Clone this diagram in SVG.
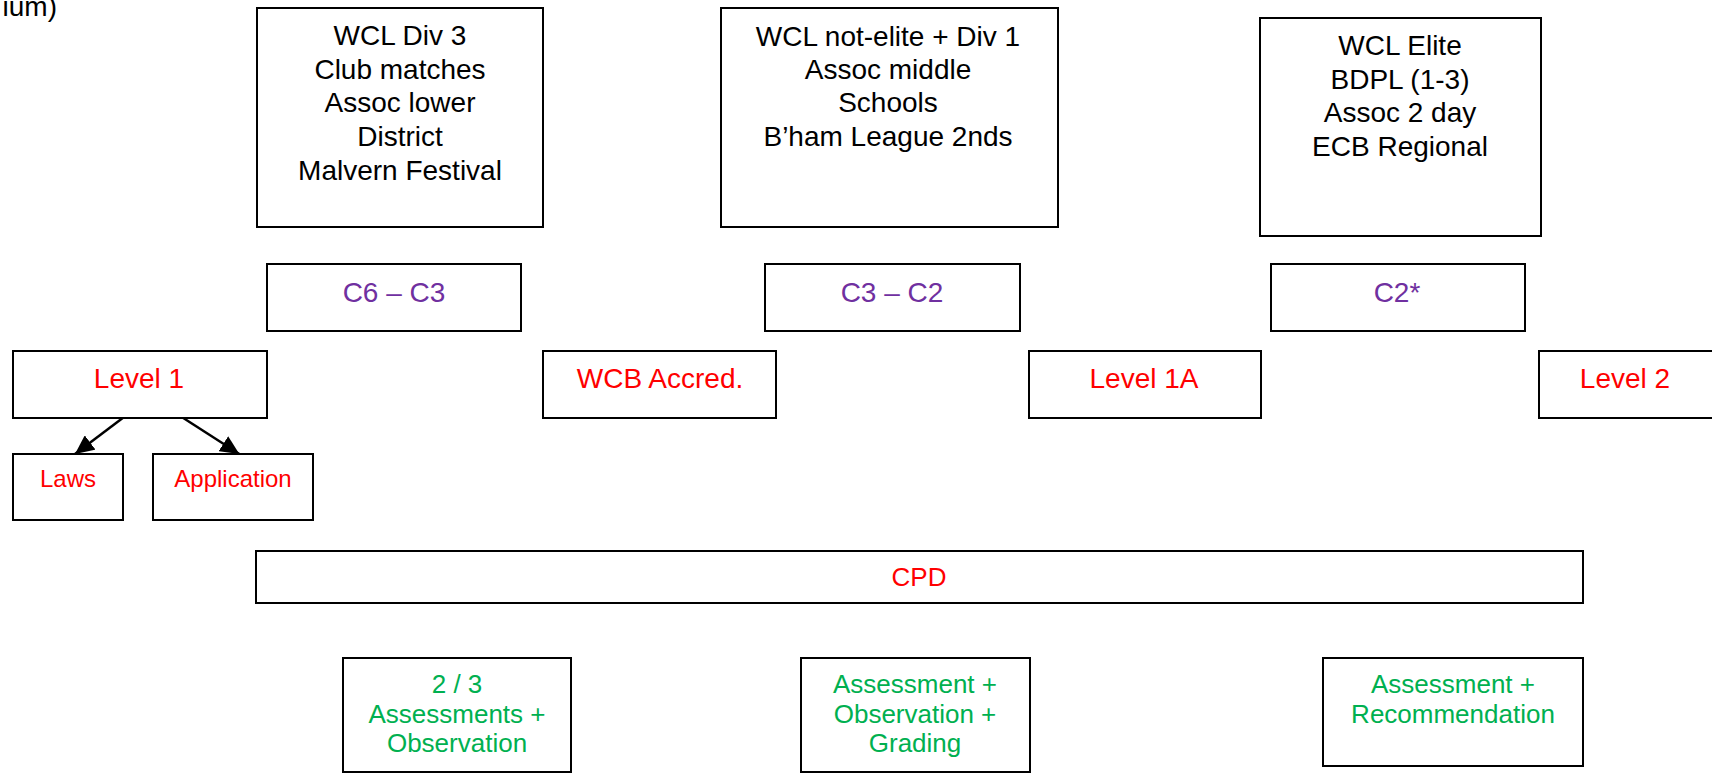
<svg xmlns="http://www.w3.org/2000/svg" width="1712" height="773" viewBox="0 0 1712 773">
<style>
  .box { fill: #ffffff; stroke: #000000; stroke-width: 2; }
  text { font-family: "Liberation Sans", Arial, sans-serif; text-anchor: middle; }
  .blk { fill: #000000; font-size: 28px; }
  .pur { fill: #7030A0; font-size: 28px; }
  .red { fill: #FF0000; font-size: 28px; }
  .redm { fill: #FF0000; font-size: 26px; }
  .reds { fill: #FF0000; font-size: 24px; }
  .grn { fill: #00B050; font-size: 26px; }
  .conn { stroke: #000000; stroke-width: 2.5; fill: none; marker-end: url(#arr); }
</style>
<defs>
  <marker id="arr" markerUnits="userSpaceOnUse" markerWidth="20" markerHeight="18" refX="19" refY="9" orient="auto">
    <path d="M0,0 L19,9 L0,18 Z" fill="#000000"/>
  </marker>
</defs>
<rect width="1712" height="773" fill="#ffffff"/>
<text class="blk" x="57" y="16" style="text-anchor:end">ium)</text>

<g id="top-div3">
  <rect class="box" x="257" y="8" width="286" height="219"/>
  <text class="blk" x="400" y="45">WCL Div 3</text>
  <text class="blk" x="400" y="78.7">Club matches</text>
  <text class="blk" x="400" y="112.4">Assoc lower</text>
  <text class="blk" x="400" y="146.1">District</text>
  <text class="blk" x="400" y="179.8">Malvern Festival</text>
</g>
<g id="top-div1">
  <rect class="box" x="721" y="8" width="337" height="219"/>
  <text class="blk" x="888" y="45.5">WCL not-elite + Div 1</text>
  <text class="blk" x="888" y="79">Assoc middle</text>
  <text class="blk" x="888" y="112.4">Schools</text>
  <text class="blk" x="888" y="146.1">B’ham League 2nds</text>
</g>
<g id="top-elite">
  <rect class="box" x="1260" y="18" width="281" height="218"/>
  <text class="blk" x="1400" y="55">WCL Elite</text>
  <text class="blk" x="1400" y="88.7">BDPL (1-3)</text>
  <text class="blk" x="1400" y="122.4">Assoc 2 day</text>
  <text class="blk" x="1400" y="156.1">ECB Regional</text>
</g>

<g id="grade-c6c3">
  <rect class="box" x="267" y="264" width="254" height="67"/>
  <text class="pur" x="394" y="302">C6 – C3</text>
</g>
<g id="grade-c3c2">
  <rect class="box" x="765" y="264" width="255" height="67"/>
  <text class="pur" x="892" y="302">C3 – C2</text>
</g>
<g id="grade-c2">
  <rect class="box" x="1271" y="264" width="254" height="67"/>
  <text class="pur" x="1397" y="302">C2*</text>
</g>

<g id="level1">
  <rect class="box" x="13" y="351" width="254" height="67"/>
  <text class="red" x="139" y="388">Level 1</text>
</g>
<g id="wcb">
  <rect class="box" x="543" y="351" width="233" height="67"/>
  <text class="red" x="660" y="388">WCB Accred.</text>
</g>
<g id="level1a">
  <rect class="box" x="1029" y="351" width="232" height="67"/>
  <text class="red" x="1144" y="388">Level 1A</text>
</g>
<g id="level2">
  <rect class="box" x="1539" y="351" width="254" height="67"/>
  <text class="red" x="1625" y="388">Level 2</text>
</g>

<g id="laws">
  <rect class="box" x="13" y="454" width="110" height="66"/>
  <text class="reds" x="68" y="487">Laws</text>
</g>
<g id="application">
  <rect class="box" x="153" y="454" width="160" height="66"/>
  <text class="reds" x="233" y="487">Application</text>
</g>

<g id="cpd">
  <rect class="box" x="256" y="551" width="1327" height="52"/>
  <text class="redm" x="919" y="586">CPD</text>
</g>

<g id="assess1">
  <rect class="box" x="343" y="658" width="228" height="114"/>
  <text class="grn" x="457" y="693">2 / 3</text>
  <text class="grn" x="457" y="723">Assessments +</text>
  <text class="grn" x="457" y="752">Observation</text>
</g>
<g id="assess2">
  <rect class="box" x="801" y="658" width="229" height="114"/>
  <text class="grn" x="915" y="693">Assessment +</text>
  <text class="grn" x="915" y="723">Observation +</text>
  <text class="grn" x="915" y="752">Grading</text>
</g>
<g id="assess3">
  <rect class="box" x="1323" y="658" width="260" height="108"/>
  <text class="grn" x="1453" y="693">Assessment +</text>
  <text class="grn" x="1453" y="723">Recommendation</text>
</g>

<g id="connectors">
  <line class="conn" x1="122.7" y1="418" x2="75" y2="454"/>
  <line class="conn" x1="183.3" y1="418" x2="239.3" y2="454"/>
</g>
</svg>
